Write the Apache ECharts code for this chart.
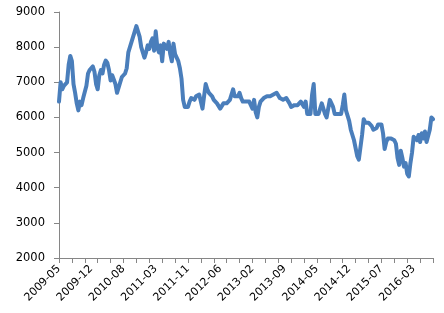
<!DOCTYPE html>
<html>
<head>
<meta charset="utf-8">
<script src="https://cdn.jsdelivr.net/npm/echarts@6/dist/echarts.min.js"></script>
<style>
html,body{margin:0;padding:0;background:#fff;}
#chart{width:444px;height:313px;}
</style>
</head>
<body>
<div id="chart"></div>
<script>
// Tick labels shown on the x axis (one every 20 categories)
const tickLabels = ['2009-05','2009-12','2010-08','2011-03','2011-11','2012-06','2013-02','2013-09','2014-05','2014-12','2015-07','2016-03'];

// Series values (~1 value per 1/20 of a label period)
const values = [
  6450,7000,6800,6900,6850,7000,7500,7750,7600,6950,
  6700,6400,6200,6450,6350,6550,6500,6900,7250,7350,
  7300,7450,7300,6950,6800,7200,7350,7250,7500,7620,
  7550,7350,7050,7200,7250,6950,6700,6750,7000,7150,
  7200,7250,7400,7850,8000,8150,8300,8450,8600,8550,
  8300,8000,7950,7700,7850,8050,7950,8150,8250,7900,
  8450,8000,7850,8050,7600,8100,8150,7950,8150,7800,
  7600,8100,7800,7700,7600,7400,7100,6500,6300,6350,
  6300,6450,6550,6600,6500,6600,6550,6650,6450,6250,
  6600,6950,6800,6700,6750,6600,6500,6550,6400,6350,
  6250,6300,6400,6450,6400,6450,6500,6550,6800,6600,
  6550,6600,6700,6550,6450,6400,6450,6400,6450,6400,
  6250,6500,6150,6000,6300,6450,6500,6550,6550,6600,
  6600,6600,6650,6650,6700,6700,6650,6550,6550,6500,
  6500,6550,6500,6400,6300,6300,6350,6300,6350,6400,
  6450,6450,6300,6450,6100,6050,6100,6650,6950,6100,
  6050,6100,6050,6400,6350,6100,6000,6250,6500,6450,
  6300,6100,6150,6100,6150,6100,6350,6650,6200,6150,
  5900,5650,5600,5350,5400,4900,4800,4850,5500,5950,
  5850,5900,5850,5850,5750,5650,5700,5700,5800,5800,
  5800,5550,5100,5300,5400,5350,5400,5350,5350,5250,
  4850,4650,5050,4850,4600,4700,4400,4320,4700,5000,
  5450,5400,5350,5500,5300,5550,5400,5600,5300,5300,
  5650,6000,5950
];

// y axis range
const yMin = 2000, yMax = 9000, yStep = 1000;
const labelEvery = 20, tickEvery = 8;

const categories = values.map((v, i) => 'd' + i);

const chart = echarts.init(document.getElementById('chart'), null, {renderer: 'canvas'});
const axisColor = '#868686';
const font = 'DejaVu Sans';
chart.setOption({
  animation: false,
  backgroundColor: '#ffffff',
  grid: {left: 59, right: 11, top: 12, bottom: 55, containLabel: false},
  xAxis: {
    type: 'category',
    data: categories,
    boundaryGap: false,
    axisLine: {show: true, lineStyle: {color: axisColor, width: 1}},
    axisTick: {show: true, interval: tickEvery - 1, length: 5, lineStyle: {color: axisColor, width: 1}},
    axisLabel: {
      interval: labelEvery - 1,
      rotate: 45,
      margin: 9,
      color: '#000',
      fontFamily: font,
      fontSize: 11,
      formatter: (val, idx) => (idx % labelEvery === 0 ? (tickLabels[idx / labelEvery] || '') : '')
    },
    splitLine: {show: false}
  },
  yAxis: {
    type: 'value',
    min: yMin, max: yMax, interval: yStep,
    axisLine: {show: true, lineStyle: {color: axisColor, width: 1}},
    axisTick: {show: true, length: 5, lineStyle: {color: axisColor, width: 1}},
    axisLabel: {margin: 14, color: '#000', fontFamily: font, fontSize: 11.5, formatter: v => String(v)},
    splitLine: {show: false}
  },
  series: [{
    type: 'line',
    data: values,
    showSymbol: false,
    symbol: 'none',
    lineStyle: {color: '#4A7EBB', width: 4, join: 'round', cap: 'round'},
    itemStyle: {color: '#4A7EBB'}
  }]
});
</script>
</body>
</html>
